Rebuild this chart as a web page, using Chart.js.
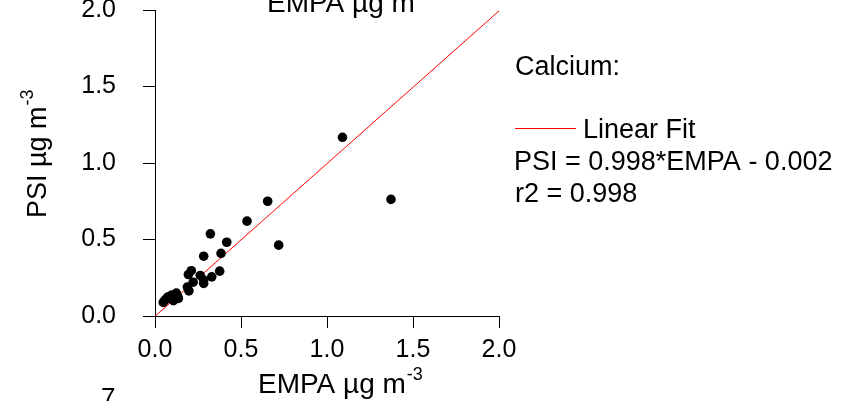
<!DOCTYPE html>
<html>
<head>
<meta charset="utf-8">
<script src="https://cdn.jsdelivr.net/npm/chart.js@4/dist/chart.umd.min.js"></script>
<style>
	body { margin: 0; background: #fff; }
	#chart { display: block; }
</style>
</head>
<body>
<canvas id="chart" width="849" height="401"></canvas>
<script>
// Calcium: PSI vs EMPA (µg m-3)
const empaValues = [
	1.09, 1.372, 0.655, 0.535, 0.322, 0.417, 0.719, 0.384, 0.283, 0.376,
	0.211, 0.194, 0.263, 0.33, 0.283, 0.283, 0.222, 0.188, 0.197, 0.124,
	0.097, 0.132, 0.078, 0.058, 0.048, 0.107, 0.136, 0.068
];
const psiValues = [
	1.168, 0.762, 0.75, 0.62, 0.537, 0.482, 0.463, 0.409, 0.391, 0.293,
	0.296, 0.271, 0.265, 0.256, 0.235, 0.213, 0.221, 0.189, 0.164, 0.15,
	0.137, 0.128, 0.126, 0.104, 0.089, 0.1, 0.115, 0.115
];

// linear fit endpoints: PSI = 0.998*EMPA - 0.002
const fitEmpa = [0, 2.0];
const fitPsi = [-0.002, 1.994];

const tickValues = [0, 0.5, 1.0, 1.5, 2.0];
const tickLabels = ['0.0', '0.5', '1.0', '1.5', '2.0'];

const FONT = '"Liberation Sans", Arial, sans-serif';

function tickLabel(value) {
	const i = tickValues.findIndex((v) => Math.abs(v - value) < 1e-9);
	return i >= 0 ? tickLabels[i] : '';
}

// draws "text" + superscript
function drawSup(ctx, text, sup, x, y, size) {
	ctx.font = size + 'px ' + FONT;
	ctx.fillText(text, x, y);
	const w = ctx.measureText(text).width;
	ctx.font = Math.round(size * 0.65) + 'px ' + FONT;
	ctx.fillText(sup, x + w + 1, y - size * 0.48);
}

const annotations = {
	id: 'annotations',
	afterDraw(chart) {
		const ctx = chart.ctx;
		ctx.save();
		ctx.fillStyle = '#000';
		ctx.textAlign = 'left';
		ctx.textBaseline = 'alphabetic';

		// title cut off at the top
		drawSup(ctx, 'EMPA \u00b5g m', '-3', 267, 12, 28);

		// x axis title
		drawSup(ctx, 'EMPA \u00b5g m', '-3', 258, 393, 28);

		// y axis title (rotated)
		ctx.save();
		ctx.translate(46, 218);
		ctx.rotate(-Math.PI / 2);
		drawSup(ctx, 'PSI \u00b5g m', '-3', 0, 0, 27);
		ctx.restore();

		// stray page number at bottom
		ctx.font = '26px ' + FONT;
		ctx.fillText('7', 101, 406);

		// legend block
		ctx.font = '27px ' + FONT;
		ctx.fillText('Calcium:', 515, 75);
		ctx.strokeStyle = '#ff0000';
		ctx.lineWidth = 1;
		ctx.beginPath();
		ctx.moveTo(515, 128.5);
		ctx.lineTo(576, 128.5);
		ctx.stroke();
		ctx.fillText('Linear Fit', 583, 138);
		ctx.fillText('PSI = 0.998*EMPA - 0.002', 514, 170);
		ctx.fillText('r2 = 0.998', 515, 202);
		ctx.restore();
	},
};

const axisCommon = {
	type: 'linear',
	min: 0,
	max: 2,
	grid: {
		display: true,
		drawOnChartArea: false,
		drawTicks: true,
		tickLength: 12,
		tickColor: '#000',
		tickWidth: 1,
	},
	border: { display: true, color: '#000', width: 1 },
};

new Chart(document.getElementById('chart'), {
	type: 'scatter',
	data: {
		datasets: [
			{
				label: 'Calcium',
				data: empaValues.map((x, i) => ({ x, y: psiValues[i] })),
				backgroundColor: '#000',
				borderWidth: 0,
				pointRadius: 4.8,
				order: 1,
			},
			{
				type: 'line',
				label: 'Linear Fit',
				data: fitEmpa.map((x, i) => ({ x, y: fitPsi[i] })),
				borderColor: '#ff0000',
				borderWidth: 1,
				pointRadius: 0,
				fill: false,
				order: 2,
			},
		],
	},
	options: {
		responsive: false,
		devicePixelRatio: 1,
		animation: false,
		layout: { padding: { top: 10, right: 350, left: 0, bottom: 0 } },
		plugins: {
			legend: { display: false },
			tooltip: { enabled: false },
			title: { display: false },
		},
		scales: {
			x: {
				...axisCommon,
				position: 'bottom',
				afterFit: (scale) => {
					scale.height = 85;
					scale.paddingLeft = 0;
					scale.paddingRight = 0;
				},
				afterBuildTicks: (scale) => { scale.ticks = tickValues.map((v) => ({ value: v })); },
				ticks: {
					color: '#000',
					font: { family: FONT, size: 25 },
					padding: 7,
					maxRotation: 0,
					callback: tickLabel,
				},
			},
			y: {
				...axisCommon,
				position: 'left',
				afterFit: (scale) => {
					scale.width = 155;
					scale.paddingTop = 0;
					scale.paddingBottom = 0;
				},
				afterBuildTicks: (scale) => { scale.ticks = tickValues.map((v) => ({ value: v })); },
				ticks: {
					color: '#000',
					font: { family: FONT, size: 25 },
					padding: 27,
					callback: tickLabel,
				},
			},
		},
	},
	plugins: [annotations],
});
</script>
</body>
</html>
